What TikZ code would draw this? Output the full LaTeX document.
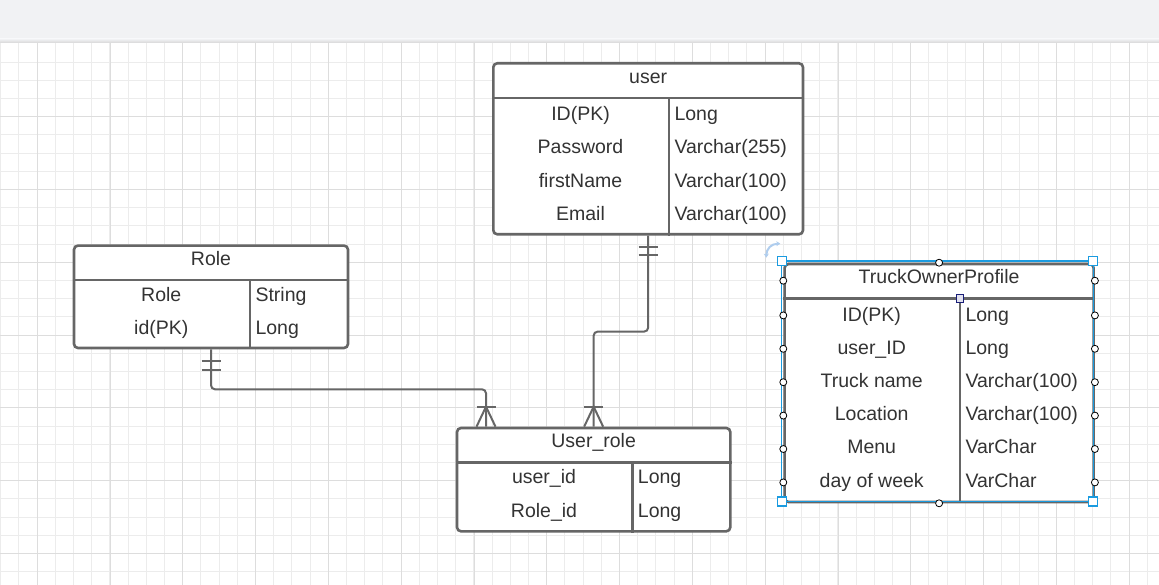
\documentclass[tikz,border=0pt]{standalone}
\usepackage{fontspec}
\setmainfont{Liberation Sans}
\usetikzlibrary{arrows.meta}
\definecolor{linegray}{RGB}{102,102,102}
\definecolor{txtgray}{RGB}{51,51,51}
\definecolor{minorgrid}{RGB}{236,236,236}
\definecolor{majorgrid}{RGB}{221,221,221}
\definecolor{barfill}{RGB}{241,242,244}
\definecolor{selblue}{RGB}{26,155,224}
\definecolor{rotblue}{RGB}{175,205,238}
\definecolor{handlenavy}{RGB}{25,30,120}
\definecolor{handlefill}{RGB}{225,225,238}
\begin{document}
\begin{tikzpicture}[x=1pt, y=-1pt,
		tbl/.style={draw=linegray, line width=2.6pt, rounded corners=4pt, fill=white, inner sep=0pt, anchor=north west},
		tblline/.style={draw=linegray, line width=2.6pt},
		lbl/.style={text=txtgray, anchor=base, inner sep=0pt, font=\fontsize{19.5}{22}\selectfont},
		typ/.style={lbl, anchor=base west},
		conn/.style={draw=linegray, line width=2pt, rounded corners=4pt},
		crowline/.style={draw=linegray, line width=2pt},
		hcirc/.style={circle, draw=black, line width=0.8pt, fill=white, minimum size=7pt, inner sep=0pt},
		hsq/.style={rectangle, draw=selblue, line width=1.3pt, fill=white, minimum size=9pt, inner sep=0pt}]
		\useasboundingbox (0,0) rectangle (1159,585);
		% page and grid
		\fill[barfill] (0,0) rectangle (1159,43);
		\fill[top color=barfill, bottom color=black!16] (0,39) rectangle (1159,43);
		\fill[white] (0,43) rectangle (1159,585);
		\foreach \gx in {0,...,63} \draw[minorgrid, line width=1pt] ({0.6+18.2*\gx},43) -- ++(0,542);
		\foreach \gy in {1,...,30} \draw[minorgrid, line width=1pt] (0,{43.9+18.2*\gy}) -- ++(1159,0);
		\foreach \gx in {0,...,15} \draw[majorgrid, line width=1pt] ({37.2+72.8*\gx},43) -- ++(0,542);
		\foreach \gy in {0,...,6} \draw[majorgrid, line width=1pt] (0,{116.7+72.8*\gy}) -- ++(1159,0);

		% user
		\node[tbl, minimum width=309.7pt, minimum height=171pt] (user) at (492,62) {};
		\draw[tblline] ([shift={(0,36)}]user.north west) -- ([shift={(0,36)}]user.north east);
		\draw[tblline] ([shift={(177,36)}]user.north west) -- ([shift={(177,0)}]user.south west);
		\node[lbl] (user-head) at ([shift={(0,21.8)}]user.north) {user};
		\foreach \fname/\ftype [count=\i from 0] in {{ID(PK)}/Long, Password/Varchar(255), firstName/Varchar(100), Email/Varchar(100)} {
			\node[lbl] (user-n\i) at ([shift={(88.5,58.5+33.4*\i)}]user.north west) {\fname};
			\node[typ] (user-t\i) at ([shift={(182.3,58.5+33.4*\i)}]user.north west) {\ftype};
		}

		% Role
		\node[tbl, minimum width=274pt, minimum height=102.4pt] (role) at (72.7,244.3) {};
		\draw[tblline] ([shift={(0,35.7)}]role.north west) -- ([shift={(0,35.7)}]role.north east);
		\draw[tblline] ([shift={(177.3,35.7)}]role.north west) -- ([shift={(177.3,0)}]role.south west);
		\node[lbl] (role-head) at ([shift={(0,21.4)}]role.north) {Role};
		\foreach \fname/\ftype [count=\i from 0] in {Role/String, {id(PK)}/Long} {
			\node[lbl] (role-n\i) at ([shift={(88.6,57+33.6*\i)}]role.north west) {\fname};
			\node[typ] (role-t\i) at ([shift={(182.6,57+33.6*\i)}]role.north west) {\ftype};
		}

		% User_role
		\node[tbl, minimum width=273.3pt, minimum height=103.3pt] (ur) at (455.7,426.7) {};
		\draw[tblline] ([shift={(0,36)}]ur.north west) -- ([shift={(0,36)}]ur.north east);
		\draw[tblline] ([shift={(176.6,36)}]ur.north west) -- ([shift={(176.6,0)}]ur.south west);
		\node[lbl] (ur-head) at ([shift={(0,20.8)}]ur.north) {User\_role};
		\foreach \fname/\ftype [count=\i from 0] in {user\_id/Long, Role\_id/Long} {
			\node[lbl] (ur-n\i) at ([shift={(88.3,56.8+34*\i)}]ur.north west) {\fname};
			\node[typ] (ur-t\i) at ([shift={(182,56.8+34*\i)}]ur.north west) {\ftype};
		}

		% TruckOwnerProfile
		\node[tbl, minimum width=309pt, minimum height=238pt] (top) at (783.3,262.7) {};
		\draw[tblline] ([shift={(0,36)}]top.north west) -- ([shift={(0,36)}]top.north east);
		\draw[tblline] ([shift={(176.7,36)}]top.north west) -- ([shift={(176.7,0)}]top.south west);
		\node[lbl] (top-head) at ([shift={(0,20.6)}]top.north) {TruckOwnerProfile};
		\foreach \fname/\ftype [count=\i from 0] in {{ID(PK)}/Long, user\_ID/Long, Truck name/Varchar(100), Location/Varchar(100), Menu/VarChar, day of week/VarChar} {
			\node[lbl] (top-n\i) at ([shift={(88.4,58.3+33.2*\i)}]top.north west) {\fname};
			\node[typ] (top-t\i) at ([shift={(182,58.3+33.2*\i)}]top.north west) {\ftype};
		}

		% relations
		\coordinate (urA) at ([shift={(30.3,0)}]ur.north west);
		\draw[conn] (role.south) -- ++(0,40) -| (urA);
		\draw[conn] (user.south) -- ++(0,96) -| (ur.north);
		\draw[crowline] ([shift={(-9.5,11.6)}]role.south) -- ++(19,0);
		\draw[crowline] ([shift={(-9.5,20.5)}]role.south) -- ++(19,0);
		\draw[crowline] ([shift={(-9.5,11)}]user.south) -- ++(19,0);
		\draw[crowline] ([shift={(-9.5,19.7)}]user.south) -- ++(19,0);
		\draw[crowline] ([shift={(-9.5,0)}]urA) -- ([shift={(0,-20)}]urA) -- ([shift={(9.5,0)}]urA);
		\draw[crowline] ([shift={(-9.5,-20)}]urA) -- ++(19,0);
		\draw[crowline] ([shift={(-9.5,0)}]ur.north) -- ([shift={(0,-20)}]ur.north) -- ([shift={(9.5,0)}]ur.north);
		\draw[crowline] ([shift={(-9.5,-20)}]ur.north) -- ++(19,0);

		% selection of TruckOwnerProfile
		\draw[selblue, line width=1.3pt] ([shift={(-1.6,-1.7)}]top.north west) rectangle ([shift={(-1.6,-1.9)}]top.south east);
		\draw[rotblue, line width=2pt, {Stealth[length=4pt,width=5pt]}-{Stealth[length=4pt,width=5pt]}] ([shift={(-17,-5)}]top.north west) .. controls ([shift={(-17,-14)}]top.north west) and ([shift={(-12,-19)}]top.north west) .. ([shift={(-3,-19)}]top.north west);
		\node[hcirc] (hc-t) at (top.north) {};
		\node[hcirc] (hc-b) at (top.south) {};
		\foreach \hy [count=\i] in {18, 52.7, 86.1, 119.5, 152.9, 186.3, 219.7} {
			\node[hcirc] (hc-l\i) at ([shift={(0,\hy)}]top.north west) {};
			\node[hcirc] (hc-r\i) at ([shift={(0,\hy)}]top.north east) {};
		}
		\node[hsq] (hs-nw) at ([shift={(-1.6,-1.7)}]top.north west) {};
		\node[hsq] (hs-ne) at ([shift={(-1.6,-1.7)}]top.north east) {};
		\node[hsq] (hs-sw) at ([shift={(-1.6,-1.9)}]top.south west) {};
		\node[hsq] (hs-se) at ([shift={(-1.6,-1.9)}]top.south east) {};
		\node[rectangle, draw=handlenavy, line width=1pt, fill=handlefill, minimum size=7.5pt, inner sep=0pt] (hs-col) at ([shift={(176.7,36)}]top.north west) {};
\end{tikzpicture}
\end{document}
